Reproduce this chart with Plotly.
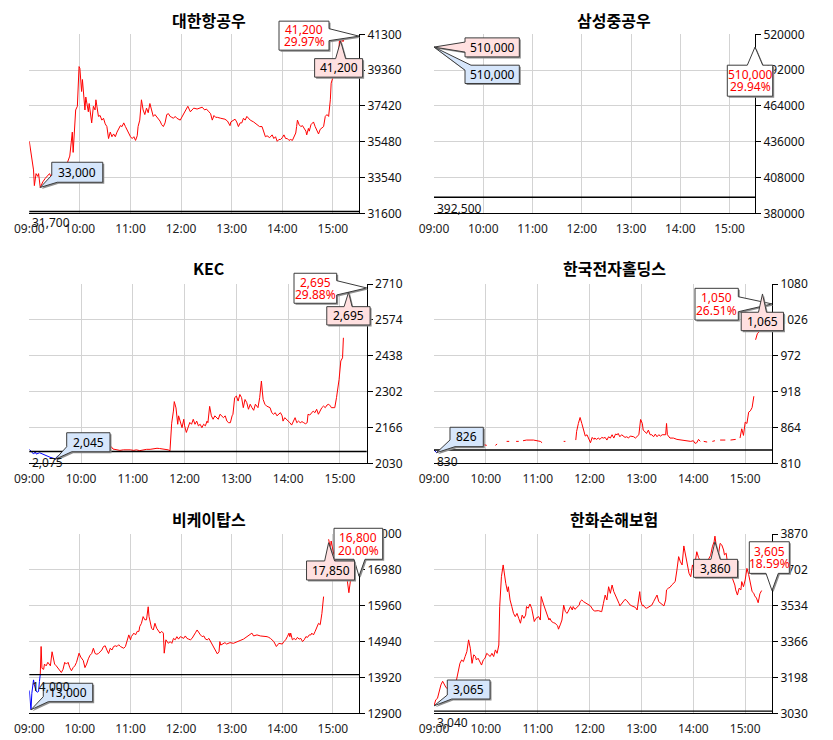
import plotly.graph_objects as go

# one trading session; times are minutes after the 09:00 open
DAY = "2024-01-02"
X_END = 391  # 15:31, right edge of every x axis

RED = "#ff0000"
BLUE = "#0000ff"
GRID = "#d3d3d3"
EDGE = "#3c3c3c"
SHADOW = "#8f8f8f"
PINK = "#ffe0e0"
SKY = "#d6e6fb"
NUM_FONT = "Noto Sans"
KR_FONT = "Noto Sans CJK KR"


def clock(m):
    return f"{DAY} {9 + m // 60:02d}:{m % 60:02d}:00"


# ---- 대한항공우 ----
kal_min = [
    0, 3, 5, 6, 8, 10, 11, 13, 16, 19, 22, 24, 26, 29, 32, 36, 40, 44, 48, 50,
    51, 52, 53, 54, 55, 57, 59, 60, 61, 62, 63, 65, 66, 67, 69, 70, 71, 73, 74, 76,
    78, 79, 81, 82, 84, 86, 88, 90, 92, 94, 96, 98, 100, 102, 104, 106, 108, 110, 112, 114,
    116, 118, 120, 122, 124, 126, 128, 129, 131, 133, 135, 137, 139, 141, 143, 145, 147, 149, 151, 153,
    155, 157, 159, 161, 163, 165, 167, 169, 171, 173, 175, 179, 182, 185, 188, 191, 193, 195, 199, 203,
    205, 208, 210, 213, 215, 217, 219, 221, 223, 227, 230, 232, 235, 238, 239, 242, 244, 246, 248, 250,
    252, 254, 256, 258, 260, 262, 266, 270, 273, 276, 278, 280, 282, 285, 288, 290, 292, 294, 296, 298,
    300, 302, 304, 306, 308, 310, 312, 314, 316, 317, 318, 320, 322, 324, 326, 328, 329, 331, 332, 334,
    336, 337, 339, 341, 343, 345, 347, 349, 351, 353, 355, 356, 357, 358, 360, 361, 363, 365, 367, 368,
    369, 370, 372, 375,
]
kal_val = [
    35500, 34700, 33950, 33100, 33750, 33600, 33750, 33000, 33300, 33500, 33650, 33750, 33550, 34000, 33900, 34100, 34000, 34200, 34700, 35400,
    36000, 34900, 35600, 36300, 37200, 37400, 39550, 39450, 38900, 38200, 38850, 37750, 37200, 37900, 37400, 37100, 37550, 37000, 36500, 37400,
    37200, 37750, 37000, 36850, 36900, 36650, 36750, 36450, 36300, 35650, 36000, 35750, 35900, 35750, 36000, 36200, 36350, 36300, 36500, 36300,
    36100, 35950, 35750, 35650, 35750, 35550, 35800, 36300, 36650, 37750, 37200, 36950, 37300, 37050, 37550, 37200, 36850, 36950, 36850, 36750,
    36600, 36400, 36300, 36500, 36950, 37000, 36850, 36800, 36750, 36850, 36750, 36650, 36900, 37200, 37400, 37100, 37200, 37300, 37250, 37300,
    37350, 37200, 37250, 37100, 37000, 36650, 36900, 36800, 36800, 36750, 36700, 36700, 36600, 36350, 36550, 36650, 36700, 36550, 36300, 36500,
    36500, 36750, 36650, 36850, 36750, 36650, 36550, 36400, 36300, 36300, 36000, 35750, 35800, 35700, 35850, 35650, 35750, 35500, 35600, 35600,
    35700, 35850, 35650, 35650, 35550, 35600, 35550, 35750, 35950, 36300, 36650, 36400, 36300, 36350, 36200, 36050, 35850, 36200, 36050, 36400,
    36500, 36550, 36300, 36050, 35900, 36150, 36250, 36300, 36850, 36950, 36850, 37200, 37750, 38650, 38900, 39100, 39000, 39350, 40200, 41200,
    40600, 41200, 40900, 41200,
]

# ---- 삼성중공우 (upper limit all session) ----
ssh_min = [0]
ssh_val = [510000]

# ---- KEC ----
kec_blue_min = [0, 3, 5, 7, 8, 12, 14, 17, 20, 24, 28, 30, 32, 36, 39, 43, 47, 51, 55, 59, 63, 65]
kec_blue_val = [2083, 2070, 2065, 2074, 2065, 2070, 2067, 2062, 2058, 2053, 2049, 2045, 2055, 2062, 2068, 2070, 2074, 2077, 2074, 2081, 2073, 2078]
kec_red_min = [
    65, 66, 70, 74, 78, 82, 86, 90, 94, 95, 97, 101, 105, 109, 113, 117, 121, 124, 128, 132,
    136, 140, 144, 148, 151, 155, 159, 161, 163, 165, 167, 168, 170, 171, 172, 173, 175, 177, 179, 180,
    182, 184, 186, 188, 190, 192, 194, 196, 198, 200, 202, 204, 206, 207, 209, 211, 213, 215, 217, 219,
    221, 223, 225, 227, 229, 231, 233, 235, 236, 238, 240, 242, 244, 246, 248, 250, 252, 254, 256, 258,
    260, 262, 264, 265, 267, 269, 270, 271, 273, 275, 279, 281, 283, 285, 287, 289, 291, 293, 294, 296,
    298, 300, 302, 304, 306, 308, 310, 312, 314, 316, 318, 320, 322, 323, 325, 327, 329, 331, 333, 335,
    337, 339, 341, 343, 345, 347, 349, 350, 352, 354, 356, 358, 359, 361, 362, 363, 364, 367, 370,
]
kec_red_val = [
    2078, 2077, 2078, 2081, 2083, 2086, 2083, 2083, 2087, 2093, 2084, 2081, 2079, 2081, 2082, 2081, 2079, 2081, 2078, 2081,
    2083, 2083, 2086, 2087, 2086, 2084, 2083, 2081, 2077, 2182, 2228, 2264, 2240, 2203, 2178, 2210, 2190, 2165, 2197, 2172,
    2147, 2165, 2185, 2178, 2197, 2178, 2190, 2172, 2178, 2165, 2178, 2172, 2190, 2184, 2246, 2210, 2197, 2210, 2203, 2197,
    2216, 2210, 2203, 2210, 2190, 2184, 2184, 2210, 2216, 2279, 2285, 2266, 2291, 2279, 2241, 2272, 2260, 2235, 2254, 2241,
    2231, 2254, 2247, 2241, 2279, 2342, 2304, 2272, 2254, 2247, 2241, 2222, 2216, 2222, 2210, 2216, 2222, 2210, 2190, 2203,
    2197, 2190, 2184, 2175, 2190, 2203, 2184, 2190, 2184, 2188, 2184, 2180, 2184, 2216, 2213, 2222, 2228, 2222, 2235, 2216,
    2228, 2241, 2247, 2241, 2251, 2254, 2247, 2241, 2241, 2241, 2279, 2317, 2348, 2418, 2424, 2430, 2506, None, 2695,
]

# ---- 한국전자홀딩스 (thin trading, gaps in the tape) ----
kei_blue_min = [0, 2, 3, 5]
kei_blue_val = [830, 827, 826, 829]
kei_red_min = [
    55, 58, 61, 62, 71, 73, 74, 84, 87, 88, 95, 98, 99, 103, 107, 115, 118, 123, 125, 126,
    150, 152, 153, 164, 165, 167, 169, 171, 173, 175, 177, 179, 181, 183, 185, 186, 188, 190, 192, 194,
    196, 198, 200, 202, 204, 206, 208, 210, 212, 213, 215, 217, 219, 221, 223, 225, 227, 229, 231, 233,
    235, 237, 239, 241, 242, 244, 246, 248, 250, 252, 254, 256, 258, 260, 262, 264, 266, 268, 269, 270,
    273, 277, 281, 285, 289, 293, 297, 300, 302, 304, 306, 308, 309, 312, 316, 317, 322, 325, 326, 331,
    337, 338, 343, 349, 350, 354, 356, 358, 360, 362, 364, 366, 368, 370, 371, 372, 374, 376, 378, 379, 380,
]
kei_red_val = [
    839, 838, 837, None, 837, 839, None, 843, 843, None, 843, 843, None, 844, 845, 845, 844, 843, 841, None,
    843, 843, None, 845, 858, 870, 879, 870, 858, 851, 853, 848, 841, 849, 846, 848, 846, 848, 846, 849,
    848, 849, 845, 850, 848, 853, 848, 854, 853, 855, 850, 853, 851, 849, 850, 848, 851, 851, 850, 848,
    850, 853, 876, 870, 860, 858, 855, 860, 853, 853, 850, 854, 850, 853, 851, 853, 853, 853, 870, 853,
    848, 848, 846, 845, 845, 844, 843, 844, 840, 841, 846, 843, None, 843, 842, None, 843, 844, None, 845,
    845, None, 845, 846, None, 848, 862, 852, 872, 870, 887, 889, 894, 911, None, 996, 1005, 1008, 1010, None, 1065,
]

# ---- 비케이탑스 ----
bkt_blue_min = [0, 2, 3, 5, 6, 8, 10, 11, 12, 13]
bkt_blue_val = [13550, 13000, 13470, 13850, 13720, 13530, 13500, 13530, 13800, 14000]
bkt_red_min = [
    13, 14, 15, 17, 18, 20, 22, 25, 27, 29, 30, 32, 36, 38, 40, 42, 44, 46, 48, 50,
    52, 54, 56, 59, 61, 64, 66, 68, 70, 72, 74, 76, 78, 80, 82, 84, 86, 88, 90, 92,
    94, 96, 98, 100, 102, 104, 106, 108, 110, 112, 114, 116, 118, 120, 121, 124, 126, 128, 130, 131,
    133, 135, 137, 139, 141, 142, 144, 145, 147, 149, 151, 153, 155, 157, 159, 160, 162, 165, 167, 169,
    171, 173, 175, 177, 179, 181, 183, 185, 187, 189, 191, 193, 195, 197, 199, 201, 203, 205, 207, 209,
    211, 213, 215, 217, 219, 221, 223, 225, 226, 227, 230, 232, 234, 238, 242, 246, 250, 254, 258, 262,
    264, 266, 270, 274, 278, 282, 284, 286, 290, 293, 296, 300, 302, 304, 306, 308, 309, 310, 312, 314,
    316, 318, 320, 322, 324, 326, 328, 330, 332, 334, 335, 337, 339, 341, 343, 345, 346, 347, 349, 352,
    355, 357, 358, 360, 362, 369, 375, 377, 379, 381, 383,
]
bkt_red_val = [
    14000, 14800, 14180, 14150, 14300, 14250, 14350, 14250, 14650, 14450, 14300, 14250, 14110, 14060, 14150, 14350, 14300, 14350, 14200, 14110,
    14200, 14250, 14350, 14610, 14500, 14400, 14200, 14300, 14450, 14550, 14600, 14750, 14600, 14580, 14600, 14650, 14700, 14800, 14820, 14700,
    14600, 14750, 14700, 14800, 14820, 14800, 14850, 14800, 14770, 14750, 14800, 14940, 15130, 14990, 15080, 15180, 15130, 15230, 15230, 15370,
    15460, 15650, 15560, 15560, 15930, 15650, 15460, 15320, 15270, 15460, 15320, 15230, 15180, 15230, 15180, 14610, 14990, 14890, 14940, 14890,
    15030, 14990, 15080, 15010, 15080, 15060, 15030, 15100, 15030, 15010, 14990, 15030, 15130, 15190, 15270, 15180, 15130, 15080, 15100, 15010,
    14990, 15030, 14940, 14840, 14750, 14650, 14590, 14650, 14940, 14840, 14890, 14910, 14870, 14910, 14890, 14940, 14970, 15010, 15080, 15130,
    15180, 15100, 15130, 15100, 15100, 15080, 15060, 15030, 14940, 14800, 14890, 14870, 14940, 14990, 15080, 15180, 15080, 15180, 14990, 15030,
    14990, 15060, 15010, 15030, 14940, 14990, 15080, 15060, 15130, 15130, 15180, 15130, 15230, 15370, 15460, 15420, 15560, 15740, 16220, None,
    17850, 17600, 17800, 17500, 17300, 17000, 16900, 16700, 16330, 16700, 16800,
]

# ---- 한화손해보험 ----
hwi_min = [
    0, 2, 4, 6, 8, 10, 12, 14, 18, 22, 26, 28, 30, 32, 34, 36, 38, 40, 42, 44,
    46, 48, 49, 51, 53, 55, 57, 59, 61, 63, 65, 67, 69, 71, 73, 75, 76, 78, 80, 83,
    85, 86, 87, 88, 90, 92, 94, 96, 98, 100, 102, 104, 106, 107, 109, 111, 113, 115, 116, 118,
    121, 123, 124, 127, 129, 131, 133, 134, 136, 138, 140, 143, 144, 146, 148, 150, 152, 154, 156, 158,
    160, 161, 163, 165, 168, 169, 171, 173, 177, 181, 184, 186, 190, 194, 196, 198, 200, 202, 204, 206,
    208, 210, 212, 214, 215, 217, 219, 221, 223, 225, 227, 229, 231, 233, 235, 237, 238, 239, 241, 242,
    244, 246, 248, 250, 252, 254, 256, 258, 260, 262, 264, 266, 268, 269, 271, 273, 275, 277, 279, 281,
    283, 285, 287, 289, 291, 293, 295, 297, 299, 301, 304, 306, 310, 316, 320, 322, 324, 325, 327, 329,
    331, 333, 335, 336, 338, 340, 348, 349, 351, 353, 355, 356, 358, 360, 362, 364, 366, 368, 370, 371,
    373, 375, 377, 379,
]
hwi_val = [
    3065, 3093, 3100, 3139, 3163, 3180, 3165, 3150, 3140, 3160, 3186, 3233, 3264, 3280, 3272, 3296, 3319, 3374, 3335, 3264,
    3304, 3296, 3280, 3288, 3272, 3256, 3280, 3288, 3311, 3304, 3296, 3311, 3296, 3327, 3311, 3350, 3530, 3670, 3725, 3639,
    3600, 3623, 3584, 3561, 3530, 3498, 3483, 3498, 3475, 3452, 3490, 3475, 3490, 3530, 3522, 3542, 3522, 3475, 3460, 3475,
    3483, 3467, 3577, 3537, 3514, 3498, 3467, 3475, 3460, 3455, 3452, 3440, 3424, 3444, 3467, 3537, 3506, 3498, 3514, 3530,
    3514, 3530, 3517, 3526, 3537, 3553, 3561, 3553, 3542, 3533, 3514, 3509, 3511, 3506, 3545, 3584, 3561, 3623, 3592, 3631,
    3600, 3584, 3561, 3545, 3533, 3545, 3553, 3564, 3558, 3548, 3537, 3533, 3530, 3526, 3514, 3561, 3600, 3558, 3533, 3537,
    3526, 3522, 3526, 3533, 3537, 3553, 3569, 3584, 3553, 3545, 3537, 3533, 3561, 3608, 3616, 3620, 3631, 3639, 3647, 3701,
    3764, 3740, 3725, 3814, 3772, 3733, 3686, 3670, 3725, 3709, 3787, 3760, 3730, 3740, 3770, 3810, 3834, 3860, 3800, 3772,
    3826, 3818, 3795, 3772, 3780, 3720, 3631, 3608, 3584, 3616, 3608, 3647, 3623, 3655, 3709, 3680, 3631, 3600, 3592, 3580,
    3570, 3548, 3590, 3605,
]

names = ["대한항공우", "삼성중공우", "KEC", "한국전자홀딩스", "비케이탑스", "한화손해보험"]
prev_close = [31700, 392500, 2075, 830, 14000, 3040]
last_price = [41200, 510000, 2695, 1050, 16800, 3605]
high_min = [368, 0, 370, 380, 355, 325]
high_price = [41200, 510000, 2695, 1065, 17850, 3860]
low_min = [13, 0, 30, 3, 2, 0]
low_price = [33000, 510000, 2045, 826, 13000, 3065]
y_ticks = [
    [31600, 33540, 35480, 37420, 39360, 41300],
    [380000, 408000, 436000, 464000, 492000, 520000],
    [2030, 2166, 2302, 2438, 2574, 2710],
    [810, 864, 918, 972, 1026, 1080],
    [12900, 13920, 14940, 15960, 16980, 18000],
    [3030, 3198, 3366, 3534, 3702, 3870],
]

series = [
    [(kal_min, kal_val, RED)],
    [(ssh_min, ssh_val, RED)],
    [(kec_blue_min, kec_blue_val, BLUE), (kec_red_min, kec_red_val, RED)],
    [(kei_blue_min, kei_blue_val, BLUE), (kei_red_min, kei_red_val, RED)],
    [(bkt_blue_min, bkt_blue_val, BLUE), (bkt_red_min, bkt_red_val, RED)],
    [(hwi_min, hwi_val, RED)],
]
for group in series:
    for mins, vals, _ in group:
        assert len(mins) == len(vals), (len(mins), len(vals))

# ---- layout, in pixels of the 833x740 page ----
W, H = 833, 740
PLOT_BOX = [  # left, right, top, bottom
    (29.3, 359.0, 34.3, 213.3),
    (434.0, 755.0, 34.3, 213.3),
    (29.3, 366.7, 284.0, 463.3),
    (434.0, 772.0, 284.0, 463.3),
    (29.3, 359.0, 534.0, 713.3),
    (434.0, 772.0, 534.0, 713.3),
]
TITLE_AT = [(208.5, 19.5), (614, 19.5), (208.5, 268), (614, 268), (208.5, 519), (614, 519)]

# speech-bubble geometry: box (left, top, right, bottom) in px from the anchor, screen y down
GEOM = [
    {"last": dict(box=(-80, -15, -30, 14), wedge=("right", -7.5, 4.5)),
     "high": dict(box=(-25, 22.5, 23, 41), wedge=("top", -4, 6), tip=(1, 5)),
     "low": dict(box=(11.5, -25.2, 62.5, -5.2), wedge=("corner_bl", 5.5, 7))},
    {"last": dict(box=(-27.7, 18.1, 17.7, 49.1), wedge=("top", -7.7, 7.7)),
     "high": dict(box=(31, -9.2, 85.3, 9.8), wedge=("left", -5, 5)),
     "low": dict(box=(31, 18.1, 85.3, 36.4), wedge=("corner_tl", 6, 5))},
    {"last": dict(box=(-72.7, -14.7, -30, 15.3), wedge=("right", -7.3, 7)),
     "high": dict(box=(-21.8, 18.7, 21.5, 37), wedge=("top", -4.5, 3.5), tip=(0, 4.3)),
     "low": dict(box=(11.5, -26.6, 54.8, -7.6), wedge=("corner_bl", 5, 5))},
    {"last": dict(box=(-77, -15.6, -33.7, 16.1), wedge=("right", -7.2, 7.8)),
     "high": dict(box=(-21.3, 18.3, 21, 36.7), wedge=("top", -4, 4)),
     "low": dict(box=(13.4, -25.4, 46.7, -6), wedge=("corner_bl", 5, 6.7))},
    {"last": dict(box=(-25, -47.9, 23.7, -16.9), wedge=("bottom", -5, 6)),
     "high": dict(box=(-22.1, 21.7, 25.9, 40.7), wedge=("top", -4, 6), tip=(0, 3.4)),
     "low": dict(box=(12.3, -26.5, 61.7, -8.1), wedge=("corner_bl", 5, 5))},
    {"last": dict(box=(-22.7, -48.8, 17.3, -17.2), wedge=("bottom", -6, 6.3)),
     "high": dict(box=(-21.4, 23.2, 22.6, 41.2), wedge=("top", -4, 5.3), tip=(0, 5.6)),
     "low": dict(box=(13.3, -25.8, 56, -6.8), wedge=("corner_bl", 4.4, 4))},
]


def bubble_path(box, wedge, tip, dx=0.0, dy=0.0):
    left, top, right, bottom = box
    kind, a, b = wedge
    tx, ty = tip
    if kind == "top":
        pts = [(left, top), (a, top), (tx, ty), (b, top), (right, top), (right, bottom), (left, bottom)]
    elif kind == "bottom":
        pts = [(left, top), (right, top), (right, bottom), (b, bottom), (tx, ty), (a, bottom), (left, bottom)]
    elif kind == "right":
        pts = [(left, top), (right, top), (right, a), (tx, ty), (right, b), (right, bottom), (left, bottom)]
    elif kind == "left":
        pts = [(left, top), (right, top), (right, bottom), (left, bottom), (left, b), (tx, ty), (left, a)]
    elif kind == "corner_bl":
        pts = [(left, top), (right, top), (right, bottom), (left + a, bottom), (tx, ty), (left, bottom - b)]
    else:  # corner_tl
        pts = [(left, top + b), (tx, ty), (left + a, top), (right, top), (right, bottom), (left, bottom)]
    # plotly pixel paths count y upwards
    return "M " + " L ".join(f"{x + dx:.1f},{-(y + dy):.1f}" for x, y in pts) + " Z"


shapes, annotations = [], []


def callout(xval, yval, xref, yref, geom, fill, lines):
    box, wedge, tip = geom["box"], geom["wedge"], geom.get("tip", (0, 0))
    common = dict(type="path", xref=xref, yref=yref, xsizemode="pixel", ysizemode="pixel",
                  xanchor=xval, yanchor=yval, layer="above")
    shapes.append(dict(common, path=bubble_path(box, wedge, tip, 1.5, 1.5),
                       fillcolor=SHADOW, line=dict(width=0)))
    shapes.append(dict(common, path=bubble_path(box, wedge, tip),
                       fillcolor=fill, line=dict(color=EDGE, width=1)))
    cx = (box[0] + box[2]) / 2
    cy = (box[1] + box[3]) / 2
    k = len(lines)
    for j, (text, color) in enumerate(lines):
        off = (j - (k - 1) / 2) * 12.5
        annotations.append(dict(x=xval, y=yval, xref=xref, yref=yref, text=text, showarrow=False,
                                xanchor="center", yanchor="middle", xshift=cx, yshift=-(cy + off),
                                font=dict(family=NUM_FONT, size=12, color=color)))


fig = go.Figure()
layout_axes = {}

for i in range(6):
    sx = "" if i == 0 else str(i + 1)
    xref, yref = "x" + sx, "y" + sx

    for mins, vals, color in series[i]:
        fig.add_trace(go.Scatter(
            x=[clock(m) for m in mins], y=vals, mode="lines",
            line=dict(color=color, width=1), xaxis=xref, yaxis=yref,
            hoverinfo="skip", showlegend=False,
        ))

    left, right, top, bottom = PLOT_BOX[i]
    layout_axes["xaxis" + sx] = dict(
        domain=[left / W, right / W], anchor=yref, type="date", automargin=False,
        range=[clock(0), clock(X_END)], tick0=clock(0), dtick=3600000, tickformat="%H:%M",
        showgrid=True, gridcolor=GRID, gridwidth=1, zeroline=False,
        showline=True, linecolor="black", linewidth=1, ticks="", ticklabelstandoff=4,
        tickfont=dict(family=NUM_FONT, size=12, color="#222222"),
    )
    layout_axes["yaxis" + sx] = dict(
        domain=[1 - bottom / H, 1 - top / H], anchor=xref, side="right", automargin=False,
        range=[y_ticks[i][0], y_ticks[i][-1]], tickmode="array", tickvals=y_ticks[i], tickformat="d",
        showgrid=True, gridcolor=GRID, gridwidth=1, zeroline=False,
        showline=True, linecolor="black", linewidth=1,
        ticks="outside", ticklen=5, tickwidth=1, tickcolor="black",
        tickfont=dict(family=NUM_FONT, size=12, color="#111111"),
    )

    # previous close line and its label
    shapes.append(dict(type="line", xref=xref + " domain", yref=yref, x0=0, x1=1,
                       y0=prev_close[i], y1=prev_close[i], line=dict(color="black", width=1.4),
                       layer="above"))
    annotations.append(dict(x=clock(0), y=prev_close[i], xref=xref, yref=yref,
                            text=f"{prev_close[i]:,}", showarrow=False,
                            xanchor="left", yanchor="top", xshift=1, yshift=-1,
                            font=dict(family=NUM_FONT, size=12, color="#111111")))

    # last price at the right edge, then day high and day low
    g = GEOM[i]
    pct = (last_price[i] / prev_close[i] - 1) * 100
    callout(clock(X_END), last_price[i], xref, yref, g["last"], "#ffffff",
            [(f"{last_price[i]:,}", RED), (f"{pct:.2f}%", RED)])
    callout(clock(high_min[i]), high_price[i], xref, yref, g["high"], PINK,
            [(f"{high_price[i]:,}", "#000000")])
    callout(clock(low_min[i]), low_price[i], xref, yref, g["low"], SKY,
            [(f"{low_price[i]:,}", "#000000")])

    tx, ty = TITLE_AT[i]
    annotations.append(dict(x=tx / W, y=1 - ty / H, xref="paper", yref="paper",
                            text=f"<b>{names[i]}</b>", showarrow=False,
                            xanchor="center", yanchor="middle",
                            font=dict(family=KR_FONT, size=16, color="#000000")))

fig.update_layout(
    width=W, height=H,
    margin=dict(l=0, r=0, t=0, b=0, autoexpand=False),
    paper_bgcolor="white", plot_bgcolor="white",
    showlegend=False,
    shapes=shapes, annotations=annotations,
    **layout_axes,
)

# page flush with the window; callout bubbles may spill over the plot frame
# (plotly clips each shape group to its subplot, a css rule overrides that on every redraw)
POST = ("var s=document.createElement('style');"
        "s.textContent='body{margin:0}"
        ".layer-above .shapelayer g,.layer-above .shapelayer path{clip-path:none !important}';"
        "document.head.appendChild(s);")

fig.write_html("out.html", config={"displayModeBar": False, "responsive": False}, post_script=POST)
